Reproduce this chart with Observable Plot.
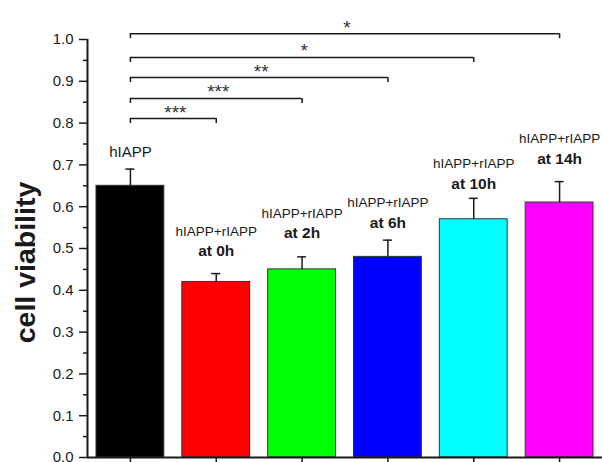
<!DOCTYPE html>
<html>
<head>
<meta charset="utf-8">
<script src="https://cdn.jsdelivr.net/npm/d3@7"></script>
<script src="https://cdn.jsdelivr.net/npm/@observablehq/plot@0.6"></script>
<style>
  html, body { margin: 0; padding: 0; background: #fff; }
  g[aria-label="stars"] text { letter-spacing: 4px; }
</style>
</head>
<body>
<div id="chart"></div>
<script>
// ---- data ----
const groups = ["hIAPP", "hIAPP+rIAPP at 0h", "hIAPP+rIAPP at 2h", "hIAPP+rIAPP at 6h", "hIAPP+rIAPP at 10h", "hIAPP+rIAPP at 14h"];
const topLabels = ["hIAPP", "hIAPP+rIAPP", "hIAPP+rIAPP", "hIAPP+rIAPP", "hIAPP+rIAPP", "hIAPP+rIAPP"];
const bottomLabels = ["", "at 0h", "at 2h", "at 6h", "at 10h", "at 14h"];
const means = [0.65, 0.42, 0.45, 0.48, 0.57, 0.61];
const errors = [0.04, 0.02, 0.03, 0.04, 0.05, 0.05];
const colors = ["#000000", "#ff0000", "#00ff00", "#0000ff", "#00ffff", "#ff00ff"];
// label anchor heights (in cell-viability units)
const topLabelY = [0.730, 0.541, 0.584, 0.610, 0.703, 0.763];
const bottomLabelY = [null, 0.495, 0.538, 0.562, 0.655, 0.715];
const yTicks = [0, 0.1, 0.2, 0.3, 0.4, 0.5, 0.6, 0.7, 0.8, 0.9, 1.0];
const yMinorTicks = [0.05, 0.15, 0.25, 0.35, 0.45, 0.55, 0.65, 0.75, 0.85, 0.95];
const yLabel = "cell viability";
// significance brackets: hIAPP vs group index
const compareTo = [1, 2, 3, 4, 5];
const bracketY = [0.811, 0.859, 0.909, 0.957, 1.014];
const stars = ["***", "***", "**", "*", "*"];

// ---- tables ----
const bars = groups.map((g, i) => ({
  g, i, mean: means[i], err: errors[i], color: colors[i],
  top: topLabels[i], bottom: bottomLabels[i], topY: topLabelY[i], bottomY: bottomLabelY[i]
}));
const brackets = compareTo.map((t, k) => ({from: 0, to: t, y: bracketY[k], stars: stars[k]}));
const bracketEnds = brackets.flatMap(b => [{x: b.from, y: b.y}, {x: b.to, y: b.y}]);

// ---- layout ----
const W = 602, H = 462, mL = 87, mR = 0, mT = 39, mB = 5;
const drop = 5 / (H - mT - mB); // 5px bracket end ticks in y units
const ink = "#1a1a1a";

const chart = Plot.plot({
  width: W, height: H,
  marginLeft: mL, marginRight: mR, marginTop: mT, marginBottom: mB,
  style: {fontFamily: "'Liberation Sans', Arial, Helvetica, sans-serif", fontSize: "15px", color: ink, background: "#fff", overflow: "visible"},
  x: {type: "linear", domain: [-0.5, groups.length - 0.5]},
  y: {domain: [0, 1]},
  color: {type: "identity"},
  marks: [
    Plot.rectY(bars, {x1: d => d.i - 0.5, x2: d => d.i + 0.5, y1: 0, y2: "mean", fill: "color",
      stroke: "#333", strokeWidth: 1, insetLeft: 9, insetRight: 9}),
    // error bars (upper only)
    Plot.ruleX(bars, {x: "i", y1: "mean", y2: d => d.mean + d.err, stroke: ink, strokeWidth: 1.5}),
    Plot.ruleY(bars, {x1: "i", x2: "i", y: d => d.mean + d.err, stroke: ink, strokeWidth: 1.5, insetLeft: -4.5, insetRight: -4.5}),
    // axes
    Plot.axisY({ticks: yTicks, tickFormat: d3.format(".1f"), tickSize: 8, tickPadding: 6, fontSize: 15, stroke: ink, strokeWidth: 1.5, label: null}),
    Plot.axisY({ticks: yMinorTicks, tickFormat: () => "", tickSize: 4, stroke: ink, strokeWidth: 1.5, label: null}),
    Plot.axisX({ticks: groups.map((g, i) => i), tickFormat: () => "", tickSize: 6, stroke: ink, strokeWidth: 1.5, label: null}),
    Plot.ruleX([-0.5], {y1: 0, y2: 1, stroke: ink, strokeWidth: 2}),
    Plot.ruleY([0], {stroke: ink, strokeWidth: 2}),
    // labels above bars
    Plot.text(bars, {x: "i", y: "topY", text: "top", fill: ink, fontSize: d => d.i === 0 ? 15 : 13.5, lineAnchor: "middle"}),
    Plot.text(bars.filter(d => d.bottom), {x: "i", y: "bottomY", text: "bottom", fill: ink, fontSize: 15.5, fontWeight: "bold", lineAnchor: "middle"}),
    // brackets
    Plot.ruleY(brackets, {x1: "from", x2: "to", y: "y", stroke: ink, strokeWidth: 1.5}),
    Plot.ruleX(bracketEnds, {x: "x", y1: "y", y2: d => d.y - drop, stroke: ink, strokeWidth: 1.5}),
    Plot.text(brackets, {x: d => (d.from + d.to) / 2, y: "y", text: "stars", fill: "#333", fontSize: 19, lineAnchor: "bottom", dx: 2, dy: 0, ariaLabel: "stars"}),
    // y label
    Plot.text([yLabel], {frameAnchor: "left", text: d => d, rotate: -90, textAnchor: "middle", dx: -62, dy: 14, fontSize: 28.5, fontWeight: "bold", fill: ink, lineAnchor: "middle"})
  ]
});
document.getElementById("chart").appendChild(chart);
</script>
</body>
</html>
